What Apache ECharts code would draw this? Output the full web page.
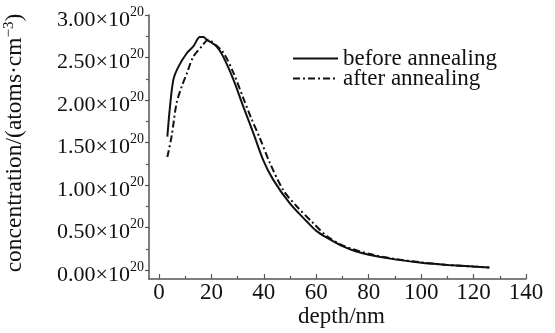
<!DOCTYPE html>
<html>
<head>
<meta charset="utf-8">
<script src="https://cdn.jsdelivr.net/npm/echarts@6/dist/echarts.min.js"></script>
<style>html,body{margin:0;padding:0;background:#fff}#c{width:555px;height:333px}</style>
</head>
<body>
<div id="c"></div>
<script>
// concentration in units of 1e20 atoms/cm^3, depth in nm
const beforeDepth = [3.2, 4.2, 5.5, 7.4, 10.6, 13.1, 15.6, 17.0, 18.2, 22.0, 24.5, 28.4, 32.2, 36.0, 39.8, 43.6, 50.0, 56.4, 60.0, 64.0, 70.0, 75.0, 80.0, 90.0, 100.0, 110.0, 120.0, 126.0];
const beforeConc  = [1.57, 1.92, 2.24, 2.39, 2.55, 2.63, 2.74, 2.74, 2.71, 2.63, 2.51, 2.24, 1.92, 1.61, 1.29, 1.06, 0.78, 0.57, 0.46, 0.38, 0.28, 0.22, 0.18, 0.125, 0.085, 0.06, 0.04, 0.03];
const afterDepth  = [3.2, 4.8, 6.7, 8.7, 10.6, 13.1, 16.3, 18.8, 20.7, 24.5, 28.4, 32.2, 35.0, 38.5, 42.3, 47.4, 52.5, 58.9, 64.0, 70.0, 80.0, 90.0, 100.0, 110.0, 120.0, 126.0];
const afterConc   = [1.33, 1.57, 1.96, 2.16, 2.31, 2.51, 2.63, 2.71, 2.67, 2.56, 2.32, 2.02, 1.80, 1.55, 1.26, 0.94, 0.75, 0.55, 0.40, 0.29, 0.19, 0.13, 0.09, 0.06, 0.04, 0.03];
const seriesNames = ['before annealing', 'after annealing'];
const xTickMin = 0, xTickMax = 140, xTickStep = 20;
const yTickMin = 0, yTickMax = 3.0, yTickStep = 0.5;

const pairs = (xs, ys) => xs.map((x, i) => [x, ys[i]]);
const FONT = '"Liberation Serif", "DejaVu Serif", serif';
const axisCol = '#555';
const txt = '#111';

const chart = echarts.init(document.getElementById('c'), null, {renderer: 'canvas'});
chart.setOption({
  animation: false,
  backgroundColor: '#fff',
  grid: [
    {left: 149, right: 29, top: 15, bottom: 54, containLabel: false, outerBoundsMode: 'none'},
    {left: 159, right: 29, top: 15, bottom: 63, containLabel: false, outerBoundsMode: 'none'}
  ],
  legend: {
    orient: 'vertical', left: 292, top: 47, padding: 0, itemWidth: 45, itemHeight: 12, itemGap: -3,
    itemStyle: {opacity: 0},
    textStyle: {fontFamily: FONT, fontSize: 23, color: txt, lineHeight: 21},
    data: seriesNames
  },
  xAxis: [
    {
      gridIndex: 0, type: 'value', min: -3.8, max: 140, splitLine: {show: false},
      name: 'depth/nm', nameLocation: 'middle', nameGap: 26,
      nameTextStyle: {fontFamily: FONT, fontSize: 23, color: txt, padding: [0, 0, 0, 8]},
      axisLine: {show: true, onZero: false, lineStyle: {color: axisCol, width: 1.5}},
      axisTick: {show: false}, axisLabel: {show: false}
    },
    {
      gridIndex: 1, type: 'value', min: xTickMin, max: xTickMax, interval: xTickStep, offset: 9,
      splitLine: {show: false},
      axisLine: {show: false, onZero: false},
      axisTick: {show: true, inside: true, length: 5, lineStyle: {color: axisCol, width: 1.2}},
      minorTick: {show: true, splitNumber: 2, length: 3, lineStyle: {color: axisCol, width: 1.2}},
      axisLabel: {show: true, margin: 2, fontFamily: FONT, fontSize: 23, color: txt}
    }
  ],
  yAxis: [
    {
      gridIndex: 0, type: 'value', min: -0.106, max: 3.0, splitLine: {show: false},
      name: '{a|concentration/(atoms·cm}{s|−3}{a|)}', nameLocation: 'middle', nameGap: 122, nameRotate: 90,
      nameTextStyle: {padding: [0, 0, 0, 8], rich: {
        a: {fontFamily: FONT, fontSize: 23.5, color: txt},
        s: {fontFamily: FONT, fontSize: 15, color: txt, padding: [0, 0, 10, 0]}
      }},
      axisLine: {show: true, onZero: false, lineStyle: {color: axisCol, width: 1.5}},
      axisTick: {show: false}, axisLabel: {show: false}
    },
    {
      gridIndex: 1, type: 'value', min: yTickMin, max: yTickMax, interval: yTickStep, offset: 10,
      splitLine: {show: false},
      axisLine: {show: false, onZero: false},
      axisTick: {show: true, inside: false, length: 4, lineStyle: {color: axisCol, width: 1.2}},
      minorTick: {show: true, splitNumber: 2, length: 3, lineStyle: {color: axisCol, width: 1.2}},
      axisLabel: {
        show: true, margin: 5,
        formatter: v => '{a|' + v.toFixed(2) + '×10}{b|20}',
        rich: {
          a: {fontFamily: FONT, fontSize: 22, color: txt, padding: [10, 0, 0, 0]},
          b: {fontFamily: FONT, fontSize: 14, color: txt, padding: [0, 0, 6, 0]}
        }
      }
    }
  ],
  series: [
    {
      name: seriesNames[0], type: 'line', xAxisIndex: 0, yAxisIndex: 0,
      data: pairs(beforeDepth, beforeConc), symbol: 'none', smooth: 0.3,
      lineStyle: {color: txt, width: 2, type: 'solid'}, itemStyle: {color: txt}
    },
    {
      name: seriesNames[1], type: 'line', xAxisIndex: 0, yAxisIndex: 0,
      data: pairs(afterDepth, afterConc), symbol: 'none', smooth: 0.3,
      lineStyle: {color: txt, width: 2, type: [7, 3, 2, 3]}, itemStyle: {color: txt}
    }
  ]
});
</script>
</body>
</html>
